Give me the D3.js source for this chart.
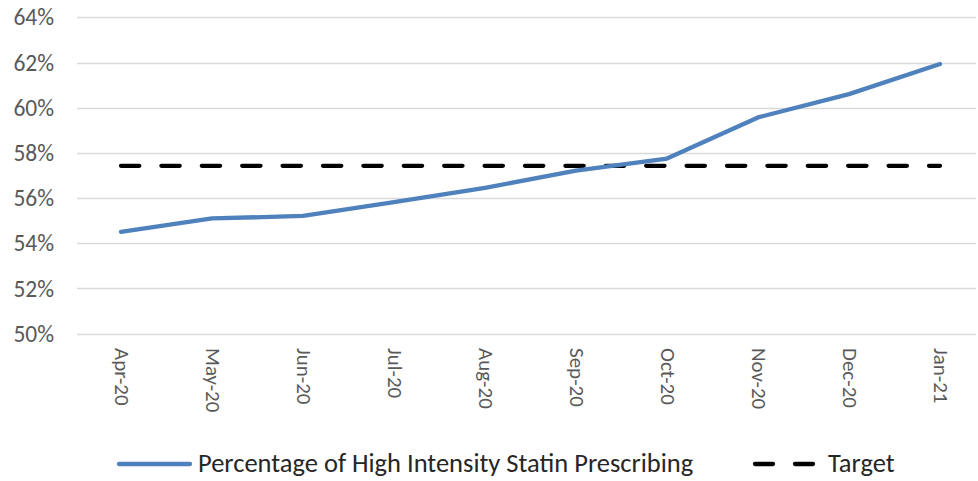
<!DOCTYPE html>
<html><head><meta charset="utf-8">
<script src="https://cdn.jsdelivr.net/npm/d3@7"></script>
<style>body{margin:0;background:#fff}svg{display:block}</style>
</head><body>
<svg id="c" width="978" height="481"></svg>
<script>
const categories = ["Apr-20","May-20","Jun-20","Jul-20","Aug-20","Sep-20","Oct-20","Nov-20","Dec-20","Jan-21"];
const statinValues = [0.5451, 0.5510, 0.5521, 0.5582, 0.5645, 0.5722, 0.5775, 0.5957, 0.6060, 0.6193];
const targetValues = [0.5743, 0.5743, 0.5743, 0.5743, 0.5743, 0.5743, 0.5743, 0.5743, 0.5743, 0.5743];
const yTicks = [0.50, 0.52, 0.54, 0.56, 0.58, 0.60, 0.62, 0.64];
const seriesNames = ["Percentage of High Intensity Statin Prescribing", "Target"];

const svg = d3.select("#c");
const font = "Carlito, Calibri, 'Open Sans', sans-serif";
const x = d3.scalePoint().domain(categories).range([121, 940]);
const y = d3.scaleLinear().domain([0.50, 0.64]).range([333.7, 17.3]);

// gridlines
svg.append("g").selectAll("line").data(yTicks).join("line")
  .attr("x1", 77).attr("x2", 976)
  .attr("y1", d => Math.round(y(d)) + 0.5).attr("y2", d => Math.round(y(d)) + 0.5)
  .attr("stroke", "#d9d9d9").attr("stroke-width", 1.3);

// y axis labels
const yAxis = d3.axisLeft(y).tickValues(yTicks).tickFormat(d3.format(".0%")).tickSize(0).tickPadding(0);
const gy = svg.append("g").attr("transform", "translate(54,0)").call(yAxis);
gy.select(".domain").remove();
gy.selectAll("text").attr("fill", "#595959").style("font-family", font).style("font-size", "23.5px");

// x axis labels
const xAxis = d3.axisBottom(x).tickSize(0).tickPadding(0);
const gx = svg.append("g").attr("transform", "translate(0,348)").call(xAxis);
gx.select(".domain").remove();
gx.selectAll("text")
  .attr("fill", "#595959").style("font-family", font).style("font-size", "21px")
  .attr("text-anchor", "start").attr("dy", null).attr("y", 0)
  .attr("transform", "rotate(90) translate(0,7)");

// target line
const line = d3.line().x((d, i) => x(categories[i])).y(d => y(d));
svg.append("path").datum(targetValues).attr("d", line)
  .attr("fill", "none").attr("stroke", "#000").attr("stroke-width", 4.3)
  .attr("stroke-dasharray", "18.3,22.1").attr("stroke-linecap", "round");

// statin line
svg.append("path").datum(statinValues).attr("d", line)
  .attr("fill", "none").attr("stroke", "#4f81bd").attr("stroke-width", 4.3)
  .attr("stroke-linejoin", "round").attr("stroke-linecap", "round");

// legend
const lg = svg.append("g");
lg.append("line").attr("x1", 119).attr("x2", 190).attr("y1", 464).attr("y2", 464)
  .attr("stroke", "#4f81bd").attr("stroke-width", 4.3).attr("stroke-linecap", "round");
lg.append("text").attr("x", 198).attr("y", 471.5).text(seriesNames[0])
  .attr("fill", "#262626").style("font-family", font).style("font-size", "26.5px");
lg.append("line").attr("x1", 755).attr("x2", 813).attr("y1", 464).attr("y2", 464)
  .attr("stroke", "#000").attr("stroke-width", 4.3).attr("stroke-linecap", "round")
  .attr("stroke-dasharray", "18,22");
lg.append("text").attr("x", 828).attr("y", 471.5).text(seriesNames[1])
  .attr("fill", "#262626").style("font-family", font).style("font-size", "26.5px");
</script>
</body></html>
